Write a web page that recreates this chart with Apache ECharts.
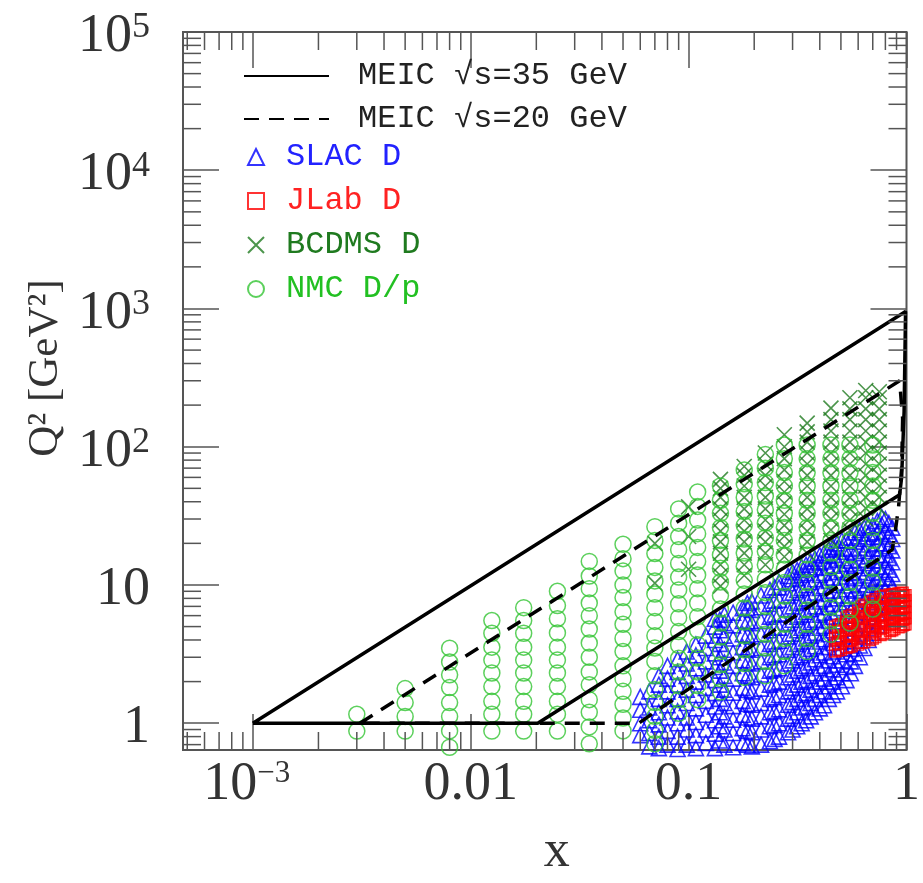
<!DOCTYPE html>
<html>
<head>
<meta charset="utf-8">
<script src="https://cdn.jsdelivr.net/npm/echarts@6/dist/echarts.min.js"></script>
<style>
  html, body { margin: 0; background: #fff; }
  #chart { width: 923px; height: 883px; }
</style>
</head>
<body>
<div id="chart"></div>
<script>
// axis ranges (log)
const X_MIN = 4.78e-4, X_MAX = 1
const Y_MIN = 0.64, Y_MAX = 1e5

// MEIC kinematic boundaries [x, Q2]
const meic35 = [[0.001, 1], [0.99, 950], [0.975, 180], [0.95, 60], [0.93, 45], [0.0203, 1], [0.001, 1]]
const meic20 = [[0.0031, 1], [0.93, 300], [0.96, 160], [0.95, 70], [0.92, 37], [0.89, 25], [0.86, 18], [0.059, 1], [0.0031, 1]]

// NMC D/p: x bins and Q2 values per bin
const nmcX = [0.003, 0.005, 0.008, 0.0125, 0.0175, 0.025, 0.035, 0.05, 0.07, 0.09, 0.11, 0.14, 0.18, 0.225, 0.275, 0.35, 0.45, 0.55, 0.7]
const nmcQ2 = [
  [0.877, 1.16],
  [0.877, 1.12, 1.41, 1.78],
  [0.67, 0.88, 1.12, 1.41, 1.81, 2.24, 2.77, 3.49],
  [0.877, 1.16, 1.44, 1.84, 2.31, 2.86, 3.55, 4.47, 5.53],
  [0.877, 1.16, 1.44, 1.84, 2.31, 2.86, 3.55, 4.47, 5.53, 6.85],
  [0.877, 1.16, 1.44, 1.84, 2.31, 2.86, 3.55, 4.5, 5.7, 7.1, 9.0],
  [0.71, 0.94, 1.2, 1.48, 1.9, 2.35, 3.0, 3.8, 4.8, 6.0, 7.4, 9.4, 11.6, 14.8],
  [0.88, 1.09, 1.37, 1.7, 2.1, 2.6, 3.3, 4.1, 5.2, 6.4, 8.1, 10, 12.6, 15.5, 19.7],
  [0.71, 0.89, 1.12, 1.41, 1.75, 2.2, 2.8, 3.5, 4.3, 5.45, 6.85, 8.6, 10.7, 13.4, 16.9, 21, 26.4],
  [1.18, 1.48, 1.87, 2.35, 2.95, 3.66, 4.6, 5.8, 7.3, 9.2, 11.4, 14.3, 18, 22.4, 28, 35.5],
  [1.48, 1.87, 2.35, 2.96, 3.7, 4.7, 5.9, 7.4, 9.4, 11.8, 14.8, 18.7, 23.5, 29.5, 37, 47],
  [1.68, 2.1, 2.65, 3.3, 4.2, 5.3, 6.7, 8.4, 10.5, 13.2, 16.5, 21, 26, 33, 41, 52],
  [2.15, 2.7, 3.4, 4.3, 5.4, 6.8, 8.6, 10.8, 13.6, 17, 21.5, 27, 34, 43, 54, 68],
  [2.2, 2.8, 3.5, 4.4, 5.5, 7, 8.8, 11, 14, 17.5, 22, 28, 35, 44, 55, 70, 88],
  [2.6, 3.3, 4.1, 5.2, 6.6, 8.3, 10.4, 13, 16.5, 21, 26, 33, 41, 52, 65, 82, 103],
  [3.3, 4.1, 5.2, 6.6, 8.3, 10.4, 13, 16.5, 21, 26, 33, 41, 52, 65, 82, 103],
  [4.4, 5.5, 6.9, 8.6, 10.8, 13.5, 17, 21, 26, 33, 41, 52, 65, 82, 103],
  [5.3, 6.6, 8.3, 10.4, 13, 16.5, 21, 26, 33, 41, 52, 65, 82, 103],
  [6.7, 8.4, 10.5, 13.2, 16.5, 21, 26, 33, 41, 52, 65, 82, 103]
]

// BCDMS D
const bcdmsX = [0.07, 0.1, 0.14, 0.18, 0.225, 0.275, 0.35, 0.45, 0.55, 0.65, 0.75]
const bcdmsQ2 = [
  [10.3, 20],
  [13, 22.4, 36.7],
  [9.8, 11.7, 14, 17, 20.5, 24.5, 29.5, 35.5, 43, 50, 58],
  [11.7, 14, 17, 20.5, 24.5, 29.5, 35.5, 43, 52, 62, 72],
  [14, 17, 20.5, 24.5, 29.5, 35.5, 43, 52, 62, 75, 90],
  [16, 19, 22.5, 27, 32.5, 39, 47, 56, 68, 82, 100, 122],
  [17, 20.5, 24.5, 29.5, 35.5, 43, 52, 62, 75, 90, 108, 128, 148],
  [21, 25, 30, 36, 43, 52, 62, 75, 90, 108, 130, 157, 190],
  [25, 29.5, 35.5, 43, 52, 62, 75, 90, 108, 130, 157, 188, 226],
  [30, 36, 43, 52, 62, 75, 90, 108, 130, 157, 188, 226, 255],
  [36, 43, 52, 62, 75, 90, 108, 130, 157, 188, 226, 250]
]

// SLAC D
const slacX = [0.060, 0.066, 0.073, 0.080, 0.089, 0.098, 0.108, 0.12, 0.132, 0.139, 0.146, 0.16, 0.177, 0.186, 0.195,
  0.215, 0.236, 0.248, 0.26, 0.286, 0.3, 0.315, 0.33, 0.346, 0.363, 0.38, 0.4, 0.418, 0.44, 0.46, 0.48, 0.505,
  0.53, 0.555, 0.58, 0.61, 0.64, 0.67, 0.7, 0.735, 0.77, 0.8, 0.83, 0.86]
const slacQ2 = [
  [0.82, 1.0, 1.25, 1.55],
  [0.68, 0.85, 1.05, 1.3, 1.7],
  [0.66, 0.8, 0.98, 1.2, 1.5, 1.9, 2.2],
  [0.7, 0.88, 1.1, 1.35, 1.7, 2.1, 2.6],
  [0.65, 0.8, 1.0, 1.22, 1.5, 1.9, 2.35, 2.9],
  [0.7, 0.9, 1.1, 1.4, 1.75, 2.2, 2.7, 3.3],
  [0.66, 0.82, 1.02, 1.28, 1.6, 2.0, 2.5, 3.1, 3.7],
  [0.72, 0.9, 1.15, 1.45, 1.8, 2.25, 2.8, 3.5, 4.3],
  [0.66, 0.84, 1.05, 1.32, 1.65, 2.05, 2.55, 3.2, 4.0, 5.0, 5.7],
  [0.75, 0.95, 1.2, 1.5, 1.9, 2.4, 3.0, 3.75, 4.7, 5.6],
  [0.7, 0.9, 1.12, 1.4, 1.75, 2.2, 2.75, 3.4, 4.3, 5.3, 6.1],
  [0.67, 0.85, 1.06, 1.33, 1.66, 2.1, 2.6, 3.25, 4.1, 5.1, 6.3],
  [0.72, 0.92, 1.15, 1.45, 1.8, 2.3, 2.85, 3.55, 4.4, 5.5, 6.8],
  [0.7, 0.88, 1.1, 1.38, 1.74, 2.2, 2.75, 3.45, 4.35, 5.45, 6.8, 7.4],
  [0.68, 0.86, 1.08, 1.36, 1.7, 2.15, 2.7, 3.4, 4.25, 5.3, 6.6, 7.6],
  [0.7, 0.9, 1.12, 1.4, 1.78, 2.25, 2.8, 3.5, 4.4, 5.5, 6.9, 8.4],
  [0.74, 0.95, 1.2, 1.5, 1.9, 2.4, 3.0, 3.75, 4.7, 5.9, 7.3, 9.2],
  [0.77, 0.97, 1.22, 1.54, 1.95, 2.45, 3.1, 3.9, 4.9, 6.1, 7.7, 9.6],
  [0.8, 1.0, 1.26, 1.6, 2.0, 2.5, 3.15, 3.95, 4.9, 6.2, 7.8, 9.6, 10.5],
  [0.86, 1.08, 1.36, 1.7, 2.15, 2.7, 3.4, 4.25, 5.3, 6.7, 8.4, 10.3, 11.6],
  [0.9, 1.13, 1.42, 1.8, 2.25, 2.85, 3.55, 4.45, 5.6, 7.0, 8.8, 11, 12.4],
  [0.95, 1.2, 1.5, 1.9, 2.4, 3.0, 3.75, 4.7, 5.9, 7.4, 9.2, 11.2, 12.8],
  [1.0, 1.3, 1.6, 2.0, 2.5, 3.1, 3.9, 4.9, 6.1, 7.6, 9.5, 11.8, 13.5],
  [1.05, 1.32, 1.65, 2.05, 2.6, 3.25, 4.1, 5.1, 6.4, 8.0, 10.0, 12.2, 14],
  [1.12, 1.4, 1.75, 2.2, 2.75, 3.45, 4.3, 5.4, 6.7, 8.4, 10.5, 13, 14.8],
  [1.2, 1.5, 1.85, 2.3, 2.9, 3.6, 4.5, 5.6, 7.0, 8.8, 11, 13.4, 15.5],
  [1.28, 1.6, 2.0, 2.5, 3.1, 3.9, 4.9, 6.1, 7.6, 9.5, 11.8, 14.5, 16.4],
  [1.35, 1.7, 2.1, 2.6, 3.25, 4.05, 5.05, 6.3, 7.9, 9.8, 12.2, 14.8, 17],
  [1.5, 1.85, 2.3, 2.85, 3.55, 4.4, 5.5, 6.9, 8.6, 10.7, 13.3, 16.2, 18],
  [1.6, 2.0, 2.45, 3.05, 3.8, 4.7, 5.9, 7.3, 9.1, 11.3, 13.8, 16.5, 18.8],
  [1.7, 2.15, 2.65, 3.3, 4.1, 5.1, 6.4, 8.0, 10, 12.4, 15.2, 18.3, 20],
  [1.85, 2.3, 2.85, 3.5, 4.4, 5.45, 6.8, 8.4, 10.4, 12.8, 15.6, 18.6, 21],
  [2.05, 2.55, 3.15, 3.9, 4.85, 6.0, 7.5, 9.3, 11.5, 14.2, 17.4, 21],
  [2.3, 2.8, 3.45, 4.25, 5.25, 6.5, 8.0, 9.9, 12.2, 15, 18.2, 22],
  [2.6, 3.2, 3.95, 4.85, 6.0, 7.4, 9.1, 11.2, 13.8, 17, 20.6, 24],
  [3.0, 3.65, 4.45, 5.45, 6.7, 8.2, 10.1, 12.4, 15.2, 18.6, 22.5, 25],
  [3.5, 4.25, 5.2, 6.35, 7.8, 9.5, 11.7, 14.4, 17.6, 21.5, 26],
  [4.0, 4.85, 5.9, 7.2, 8.8, 10.8, 13.2, 16.1, 19.6, 23.5, 27],
  [4.5, 5.5, 6.7, 8.2, 10, 12.2, 15, 18.3, 22.2, 27],
  [5.1, 6.2, 7.5, 9.1, 11.1, 13.5, 16.4, 20, 24, 29],
  [5.7, 6.9, 8.4, 10.2, 12.4, 15.1, 18.4, 22.4, 27.2, 31],
  [6.3, 7.6, 9.2, 11.2, 13.6, 16.5, 20, 24.5, 30],
  [7.2, 8.7, 10.6, 12.9, 15.7, 19.1, 23.3, 28],
  [8.0, 9.8, 12, 14.6, 17.8, 21.5, 26]
]

// JLab D
const jlabX = [0.47, 0.485, 0.5, 0.53, 0.545, 0.56, 0.6, 0.62, 0.64, 0.68, 0.7, 0.72, 0.76, 0.78, 0.8, 0.84, 0.86, 0.88,
  0.92, 0.94, 0.96, 0.975, 0.99]
const jlabQ2 = [
  [3.3, 3.7, 4.1, 4.6, 5.0],
  [3.35, 3.75, 4.15, 4.65, 5.1],
  [3.4, 3.8, 4.2, 4.7, 5.2],
  [3.5, 3.9, 4.35, 4.85, 5.4, 5.8],
  [3.55, 3.95, 4.4, 4.9, 5.45, 5.95],
  [3.6, 4.0, 4.45, 5.0, 5.55, 6.1],
  [3.7, 4.1, 4.6, 5.1, 5.7, 6.3, 6.7],
  [3.8, 4.2, 4.7, 5.25, 5.85, 6.45, 7.0],
  [3.85, 4.3, 4.8, 5.35, 5.95, 6.6, 7.2],
  [4.0, 4.45, 4.95, 5.5, 6.1, 6.8, 7.5],
  [4.1, 4.55, 5.05, 5.6, 6.25, 6.95, 7.7],
  [4.2, 4.65, 5.15, 5.75, 6.4, 7.1, 7.9],
  [4.35, 4.8, 5.35, 5.95, 6.6, 7.35, 8.2],
  [4.4, 4.9, 5.45, 6.05, 6.7, 7.45, 8.3],
  [4.5, 5.0, 5.55, 6.15, 6.85, 7.6, 8.4],
  [4.65, 5.15, 5.7, 6.35, 7.05, 7.8, 8.5],
  [4.7, 5.2, 5.8, 6.45, 7.15, 7.9, 8.55],
  [4.8, 5.3, 5.9, 6.55, 7.25, 8.0, 8.6],
  [4.95, 5.45, 6.05, 6.7, 7.4, 8.2, 8.7],
  [5.0, 5.5, 6.1, 6.75, 7.5, 8.25, 8.75],
  [5.1, 5.6, 6.2, 6.85, 7.6, 8.3, 8.8],
  [5.15, 5.7, 6.3, 6.95, 7.7, 8.4],
  [5.2, 5.75, 6.35, 7.0, 7.75, 8.45]
]

const SERIF = 'Liberation Serif'
const MONO = 'Liberation Mono'
const FRAME = '#555'
const LABEL = '#333'
const MAJOR = 36
const MINOR = 18

const pairs = (xs, qs) => xs.flatMap((x, i) => qs[i].map(q => [x, q]))

// minor tick positions (2..9 per decade)
const xMinor = []
for (let e = -4; e < 0; e++) for (let m = 2; m < 10; m++) {
  const v = m * Math.pow(10, e)
  if (v > X_MIN && v < X_MAX) xMinor.push([v, 1])
}
const yMinor = []
for (let e = -1; e < 5; e++) for (let m = 2; m < 10; m++) {
  const v = m * Math.pow(10, e)
  if (v > Y_MIN && v < Y_MAX) yMinor.push([0.01, v])
}

const isPow = v => Math.abs(Math.log10(v) - Math.round(Math.log10(v))) < 1e-6

const yLabel = v => {
  if (!isPow(v)) return ''
  const e = Math.round(Math.log10(v))
  if (e === 0) return '1'
  if (e === 1) return '10'
  return '{b|10}{s|' + e + '}'
}
const xLabel = v => {
  if (!isPow(v)) return ''
  const e = Math.round(Math.log10(v))
  if (e === -3) return '{b|10}{s|\u22123}'
  if (e === -2) return '0.01'
  if (e === -1) return '0.1'
  return '1'
}

const richY = {
  b: { fontFamily: SERIF, fontSize: 54, lineHeight: 54, color: LABEL },
  s: { fontFamily: SERIF, fontSize: 36, lineHeight: 18, verticalAlign: 'top', color: LABEL }
}
const richX = {
  b: { fontFamily: SERIF, fontSize: 54, lineHeight: 54, color: LABEL },
  s: { fontFamily: SERIF, fontSize: 31, lineHeight: 16, verticalAlign: 'top', color: LABEL, padding: [0, 12, 0, 0] }
}

const tickStyle = { show: true, inside: true, length: MAJOR, lineStyle: { color: FRAME, width: 1.5 } }

const xAxisBase = {
  type: 'log', logBase: 10, min: X_MIN, max: X_MAX,
  axisLine: { show: false }, splitLine: { show: false },
  axisTick: tickStyle
}
const yAxisBase = {
  type: 'log', logBase: 10, min: Y_MIN, max: Y_MAX,
  axisLine: { show: false }, splitLine: { show: false },
  axisTick: tickStyle
}

const tickLine = (x1, y1, x2, y2) => ({ type: 'line', shape: { x1, y1, x2, y2 }, style: { stroke: FRAME, lineWidth: 1.5 } })

const renderXMinor = (params, api) => {
  const cs = params.coordSys
  const px = api.coord([api.value(0), api.value(1)])[0]
  return { type: 'group', children: [
    tickLine(px, cs.y + cs.height, px, cs.y + cs.height - MINOR),
    tickLine(px, cs.y, px, cs.y + MINOR)
  ] }
}
const renderYMinor = (params, api) => {
  const cs = params.coordSys
  const py = api.coord([api.value(0), api.value(1)])[1]
  return { type: 'group', children: [
    tickLine(cs.x, py, cs.x + MINOR, py),
    tickLine(cs.x + cs.width, py, cs.x + cs.width - MINOR, py)
  ] }
}

const hollow = (color, w) => ({ color: 'rgba(0,0,0,0)', borderColor: color, borderWidth: w })

const chart = echarts.init(document.getElementById('chart'))
chart.setOption({
  animation: false,
  grid: { left: 183, right: 16, top: 30, bottom: 126, show: true, borderColor: FRAME, borderWidth: 2 },
  xAxis: [
    Object.assign({}, xAxisBase, {
      position: 'bottom',
      name: 'x', nameLocation: 'middle', nameGap: 76,
      nameTextStyle: { fontFamily: SERIF, fontSize: 52, color: LABEL, padding: [0, 0, 0, 24] },
      axisLabel: { formatter: xLabel, rich: richX, margin: 8, fontFamily: SERIF, fontSize: 54, color: LABEL, lineHeight: 54 }
    }),
    Object.assign({}, xAxisBase, { position: 'top', axisLabel: { show: false } })
  ],
  yAxis: [
    Object.assign({}, yAxisBase, {
      position: 'left',
      name: 'Q\u00b2 [GeV\u00b2]', nameLocation: 'middle', nameGap: 110, nameRotate: 90,
      nameTextStyle: { fontFamily: SERIF, fontSize: 43, color: LABEL, padding: [0, 0, 0, 46] },
      axisLabel: { formatter: yLabel, rich: richY, margin: 33, fontFamily: SERIF, fontSize: 54, color: LABEL, lineHeight: 54, padding: [10, 0, 0, 0] }
    }),
    Object.assign({}, yAxisBase, { position: 'right', axisLabel: { show: false } })
  ],
  legend: [
    {
      data: ['MEIC \u221as=35 GeV', 'MEIC \u221as=20 GeV'],
      orient: 'vertical', left: 238, top: 54, itemGap: 9,
      itemWidth: 85, itemHeight: 14,
      lineStyle: { width: 2 },
      itemStyle: { opacity: 0 },
      selectedMode: false,
      textStyle: { fontFamily: MONO, fontSize: 32, lineHeight: 34, color: '#222', padding: [0, 0, 0, 24] }
    },
    {
      data: [
        { name: 'SLAC D', textStyle: { color: '#2222ff' } },
        { name: 'JLab D', textStyle: { color: '#ff2222' } },
        { name: 'BCDMS D', textStyle: { color: '#1f7a1f' } },
        { name: 'NMC D/p', textStyle: { color: '#22c022' } }
      ],
      orient: 'vertical', left: 242, top: 135, itemGap: 10,
      itemWidth: 16, itemHeight: 16,
      selectedMode: false,
      textStyle: { fontFamily: MONO, fontSize: 32, lineHeight: 34, padding: [0, 0, 0, 17] }
    }
  ],
  series: [
    {
      name: 'SLAC D', type: 'scatter', z: 2,
      symbol: 'triangle', symbolSize: 15,
      itemStyle: hollow('#0000ff', 1.6),
      data: pairs(slacX, slacQ2)
    },
    {
      name: 'JLab D', type: 'scatter', z: 3,
      symbol: 'rect', symbolSize: 11,
      itemStyle: hollow('#ff0000', 1.4),
      data: pairs(jlabX, jlabQ2)
    },
    {
      name: 'BCDMS D', type: 'scatter', z: 4,
      symbol: 'path://M0,0L10,10M10,0L0,10', symbolSize: 15,
      itemStyle: hollow('#1f7a1f', 1.6),
      data: pairs(bcdmsX, bcdmsQ2)
    },
    {
      name: 'NMC D/p', type: 'scatter', z: 5,
      symbol: 'circle', symbolSize: 16,
      itemStyle: hollow('#33c433', 1.5),
      data: pairs(nmcX, nmcQ2)
    },
    {
      name: 'MEIC \u221as=20 GeV', type: 'line', z: 9,
      symbol: 'none', showSymbol: false,
      lineStyle: { color: '#000', width: 3.5, type: [15, 10] },
      itemStyle: { color: '#000' },
      data: meic20
    },
    {
      name: 'MEIC \u221as=35 GeV', type: 'line', z: 10,
      symbol: 'none', showSymbol: false,
      lineStyle: { color: '#000', width: 3.5 },
      itemStyle: { color: '#000' },
      data: meic35
    },
    { type: 'custom', renderItem: renderXMinor, data: xMinor, silent: true, z: 11 },
    { type: 'custom', renderItem: renderYMinor, data: yMinor, silent: true, z: 11 }
  ]
})
</script>
</body>
</html>
